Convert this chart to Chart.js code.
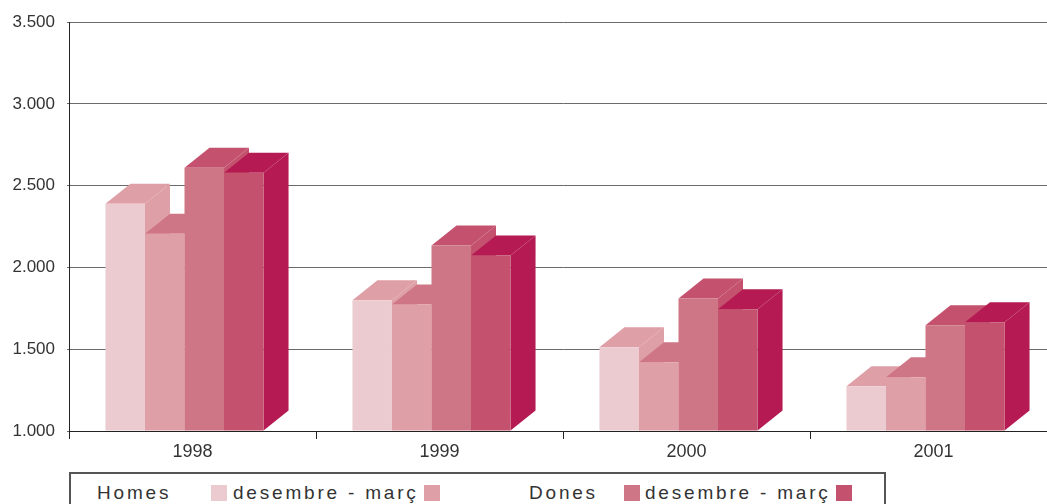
<!DOCTYPE html>
<html>
<head>
<meta charset="utf-8">
<script src="https://cdn.jsdelivr.net/npm/chart.js@4/dist/chart.umd.min.js"></script>
<style>
  html, body { margin: 0; padding: 0; background: #fff; overflow: hidden; width: 1047px; height: 504px; }
  #wrap { position: absolute; left: 0; top: 0; width: 1064px; height: 470px; }
  #legend {
    position: absolute; left: 69px; top: 472px; width: 817px; height: 40px;
    border: 2px solid #555; box-sizing: border-box;
    font-family: "Liberation Sans", Arial, sans-serif; font-size: 19px; color: #333;
    letter-spacing: 2.8px;
  }
  #legend span { position: absolute; top: 8px; white-space: nowrap; }
  #legend i { position: absolute; top: 11px; width: 16px; height: 16px; }
</style>
</head>
<body>
<div id="wrap"><canvas id="chart" width="1064" height="470"></canvas></div>
<div id="legend"></div>
<script>
const years = ['1998', '1999', '2000', '2001'];
const homesDesembre = [2390, 1800, 1512, 1274];
const homesMarc = [2207, 1774, 1421, 1329];
const donesDesembre = [2610, 2134, 1811, 1646];
const donesMarc = [2580, 2073, 1744, 1665];
const yTicks = [1000, 1500, 2000, 2500, 3000, 3500];

const frontColors = ['#ebcbcf', '#df9fa7', '#cf7686', '#c4526e'];
const sideColors = ['#df9fa7', '#cf7686', '#c4526e', '#b51b52'];
const depth = { dx: 25, dy: 20, shift: 8 };

// 3d look: side + top faces first, then chart.js paints the fronts on top
const bars3d = {
  id: 'bars3d',
  beforeDatasetsDraw(chart) {
    const ctx = chart.ctx;
    ctx.save();
    ctx.translate(-depth.shift, 0);
    for (let i = 0; i < years.length; i++) {
      chart.data.datasets.forEach((ds, d) => {
        const bar = chart.getDatasetMeta(d).data[i];
        const l = bar.x - bar.width / 2, r = bar.x + bar.width / 2;
        const t = bar.y, b = bar.base;
        ctx.fillStyle = sideColors[d];
        ctx.beginPath();
        ctx.moveTo(r, b);
        ctx.lineTo(r + depth.dx, b - depth.dy);
        ctx.lineTo(r + depth.dx, t - depth.dy);
        ctx.lineTo(r, t);
        ctx.closePath();
        ctx.fill();
        ctx.beginPath();
        ctx.moveTo(l, t);
        ctx.lineTo(l + depth.dx, t - depth.dy);
        ctx.lineTo(r + depth.dx, t - depth.dy);
        ctx.lineTo(r, t);
        ctx.closePath();
        ctx.fill();
      });
    }
  },
  afterDatasetsDraw(chart) {
    chart.ctx.restore();
  }
};

new Chart(document.getElementById('chart'), {
  type: 'bar',
  data: {
    labels: years,
    datasets: [
      { label: 'Homes desembre', data: homesDesembre },
      { label: 'Homes març', data: homesMarc },
      { label: 'Dones desembre', data: donesDesembre },
      { label: 'Dones març', data: donesMarc }
    ].map((ds, d) => ({ ...ds, backgroundColor: frontColors[d], borderWidth: 0, base: 1000,
      categoryPercentage: 0.64, barPercentage: 1 }))
  },
  options: {
    responsive: false,
    animation: false,
    layout: { padding: { top: 21, right: 7, left: 0, bottom: 0 } },
    plugins: { legend: { display: false }, tooltip: { enabled: false } },
    scales: {
      x: {
        grid: { drawOnChartArea: false, tickLength: 8, color: '#222' },
        border: { color: '#222' },
        ticks: { color: '#333', font: { family: 'Liberation Sans', size: 18 }, padding: 2 },
        afterFit(s) { s.height = 39; }
      },
      y: {
        min: 1000, max: 3500,
        afterBuildTicks(s) { s.ticks = yTicks.map(v => ({ value: v })); },
        grid: { color: '#6a6a6a', tickLength: 2 },
        border: { color: '#222' },
        ticks: {
          color: '#333', font: { family: 'Liberation Sans', size: 17 }, padding: 12,
          callback: v => v.toString().replace(/\B(?=(\d{3})+(?!\d))/g, '.')
        },
        afterFit(s) { s.width = 69; }
      }
    }
  },
  plugins: [bars3d]
});

// legend row, laid out like the original
const legendItems = [
  { text: 'Homes', x: 26 },
  { box: frontColors[0], x: 140 },
  { text: 'desembre - març', x: 162 },
  { box: frontColors[1], x: 353 },
  { text: 'Dones', x: 458 },
  { box: frontColors[2], x: 553 },
  { text: 'desembre - març', x: 574 },
  { box: frontColors[3], x: 765 }
];
const legend = document.getElementById('legend');
legendItems.forEach(it => {
  const el = document.createElement(it.box ? 'i' : 'span');
  el.style.left = it.x + 'px';
  if (it.box) el.style.background = it.box;
  else el.textContent = it.text;
  legend.appendChild(el);
});
</script>
</body>
</html>
